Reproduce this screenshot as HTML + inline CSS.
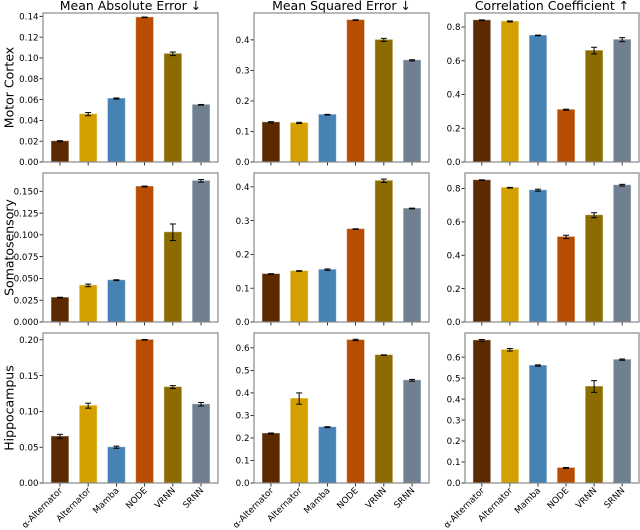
<!DOCTYPE html>
<html><head><meta charset="utf-8"><style>
html,body{margin:0;padding:0;background:#fff}
svg{display:block;font-family:"DejaVu Sans","Liberation Sans",sans-serif}
</style></head><body>
<svg id="chart" width="640" height="530" viewBox="0 0 640 530" xmlns="http://www.w3.org/2000/svg"></svg>
<script>
const categories = ["α-Alternator","Alternator","Mamba","NODE","VRNN","SRNN"];
const colors = ["#5c2a00","#d4a000","#4682b4","#b84c00","#8c6c00","#708090"];
const rowNames = ["Motor Cortex","Somatosensory","Hippocampus"];
const colTitles = ["Mean Absolute Error ↓","Mean Squared Error ↓","Correlation Coefficient ↑"];
const maeMotor = [0.020,0.046,0.061,0.139,0.104,0.055];
const maeMotorErr = [0.0005,0.0015,0.0005,0.0003,0.0017,0.0003];
const mseMotor = [0.130,0.128,0.155,0.465,0.400,0.333];
const mseMotorErr = [0.002,0.002,0.001,0.001,0.005,0.002];
const ccMotor = [0.840,0.833,0.750,0.310,0.660,0.725];
const ccMotorErr = [0.002,0.003,0.002,0.003,0.020,0.012];
const maeSomato = [0.028,0.042,0.048,0.1555,0.103,0.162];
const maeSomatoErr = [0.0004,0.0015,0.0005,0.0005,0.0095,0.0015];
const mseSomato = [0.142,0.151,0.155,0.275,0.418,0.336];
const mseSomatoErr = [0.001,0.001,0.002,0.001,0.005,0.001];
const ccSomato = [0.850,0.805,0.790,0.510,0.640,0.820];
const ccSomatoErr = [0.002,0.002,0.006,0.010,0.015,0.005];
const maeHippo = [0.065,0.108,0.050,0.200,0.134,0.110];
const maeHippoErr = [0.003,0.0035,0.0015,0.0005,0.002,0.0025];
const mseHippo = [0.220,0.375,0.248,0.635,0.568,0.456];
const mseHippoErr = [0.002,0.025,0.002,0.003,0.001,0.004];
const ccHippo = [0.680,0.635,0.560,0.072,0.460,0.588];
const ccHippoErr = [0.004,0.006,0.003,0.002,0.028,0.003];
const ticksMAE1 = ["0.00","0.02","0.04","0.06","0.08","0.10","0.12","0.14"];
const ticksMAE2 = ["0.000","0.025","0.050","0.075","0.100","0.125","0.150"];
const ticksMAE3 = ["0.00","0.05","0.10","0.15","0.20"];
const ticksMSE1 = ["0.0","0.1","0.2","0.3","0.4"];
const ticksMSE2 = ["0.0","0.1","0.2","0.3","0.4"];
const ticksMSE3 = ["0.0","0.1","0.2","0.3","0.4","0.5","0.6"];
const ticksCC1 = ["0.0","0.2","0.4","0.6","0.8"];
const ticksCC2 = ["0.0","0.2","0.4","0.6","0.8"];
const ticksCC3 = ["0.0","0.1","0.2","0.3","0.4","0.5","0.6"];

const panels = [
 [{v:maeMotor,e:maeMotorErr,t:ticksMAE1,max:0.1432},{v:mseMotor,e:mseMotorErr,t:ticksMSE1,max:0.488},{v:ccMotor,e:ccMotorErr,t:ticksCC1,max:0.883}],
 [{v:maeSomato,e:maeSomatoErr,t:ticksMAE2,max:0.171},{v:mseSomato,e:mseSomatoErr,t:ticksMSE2,max:0.441},{v:ccSomato,e:ccSomatoErr,t:ticksCC2,max:0.893}],
 [{v:maeHippo,e:maeHippoErr,t:ticksMAE3,max:0.2095},{v:mseHippo,e:mseHippoErr,t:ticksMSE3,max:0.666},{v:ccHippo,e:ccHippoErr,t:ticksCC3,max:0.715}]
];
const colX = [[43,218],[254,429],[465,639]];
const rowY = [[13,162],[173,322],[333,483]];
const NS="http://www.w3.org/2000/svg";
const svg=document.getElementById('chart');
function mk(tag,attrs,parent){const el=document.createElementNS(NS,tag);for(const k in attrs)el.setAttribute(k,attrs[k]);(parent||svg).appendChild(el);return el;}

colTitles.forEach((t,c)=>{
 const el=mk('text',{x:(colX[c][0]+colX[c][1])/2,y:10,'text-anchor':'middle','font-size':'12.5',fill:'#000'});
 el.textContent=t;
 
 
});
rowNames.forEach((t,r)=>{
 const cy=(rowY[r][0]+rowY[r][1])/2;
 const el=mk('text',{x:0,y:0,transform:`translate(13.5,${cy}) rotate(-90)`,'text-anchor':'middle','font-size':'12.5',fill:'#000'});
 el.textContent=t;
 
 
});

for(let r=0;r<3;r++)for(let c=0;c<3;c++){
 const p=panels[r][c];
 const [x0,x1]=colX[c],[y0,y1]=rowY[r];
 const g=mk('g',{});
 
 
 const xs=i=>x0+(i+0.6)*(x1-x0)/6.2;
 const bw=0.6*(x1-x0)/6.2;
 const ys=v=>y1-v/p.max*(y1-y0);
 p.t.forEach(lbl=>{
  const v=parseFloat(lbl);const y=ys(v);
  mk('line',{x1:x0-3.5,x2:x0,y1:y,y2:y,stroke:'#000','stroke-width':0.8},g);
  const tx=mk('text',{x:x0-4.5,y:y+3.2,'text-anchor':'end','font-size':'8.7',fill:'#000'},g);
  tx.textContent=lbl;
  
  
 });
 p.v.forEach((v,i)=>{
  const cx=xs(i);
  const b=mk('rect',{x:cx-bw/2,y:ys(v),width:bw,height:y1-ys(v),fill:colors[i],stroke:colors[i],'stroke-opacity':0.5,'stroke-width':1},g);
  
  
  const e=p.e[i];
  const eg=mk('g',{stroke:'#000','stroke-width':1},g);
  
  
  mk('line',{x1:cx,x2:cx,y1:ys(v-e),y2:ys(v+e)},eg);
  mk('line',{x1:cx-3,x2:cx+3,y1:ys(v-e),y2:ys(v-e)},eg);
  mk('line',{x1:cx-3,x2:cx+3,y1:ys(v+e),y2:ys(v+e)},eg);
  mk('line',{x1:cx,x2:cx,y1:y1,y2:y1+3.5,stroke:'#000','stroke-width':0.8},g);
  if(r===2){
   const tl=mk('text',{x:0,y:0,transform:`translate(${cx+3},${y1+8}) rotate(-45)`,'text-anchor':'end','font-size':'8.8',fill:'#000'},g);
   tl.textContent=categories[i];
   
   
  }
 });
 const fr=mk('rect',{x:x0,y:y0,width:x1-x0,height:y1-y0,fill:'none',stroke:'#888','stroke-width':1.2},g);
 
 
}
</script>
</body></html>
